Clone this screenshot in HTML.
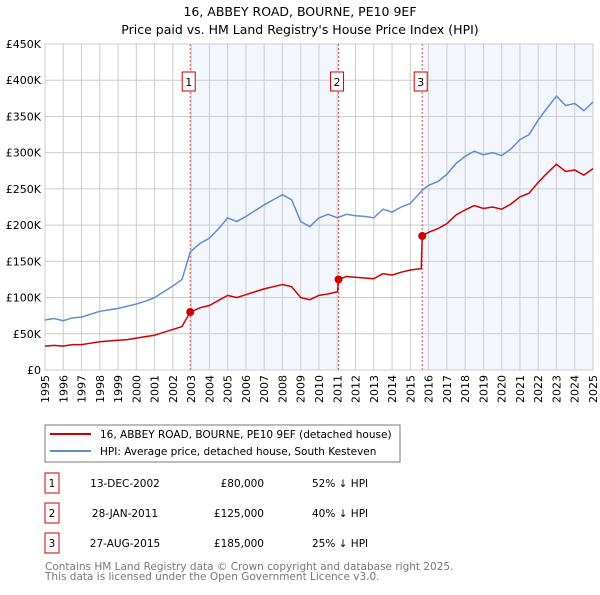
<!DOCTYPE html>
<html><head><meta charset="utf-8"><style>
body{margin:0;background:#fff;font-family:"Liberation Sans","DejaVu Sans",sans-serif;}
svg text{font-family:"DejaVu Sans","Liberation Sans",sans-serif;}
</style></head><body>
<svg id="c" width="600" height="590" xmlns="http://www.w3.org/2000/svg">
<text x="300" y="16" text-anchor="middle" font-size="12.5">16, ABBEY ROAD, BOURNE, PE10 9EF</text>
<text x="300" y="34" text-anchor="middle" font-size="12.5">Price paid vs. HM Land Registry's House Price Index (HPI)</text>
<g id="plot"></g>
<rect x="45" y="425" width="355" height="37" fill="#fff" stroke="#777"/>
<line x1="50" y1="434" x2="91" y2="434" stroke="#cc0000" stroke-width="2"/>
<text x="100" y="438" font-size="10.5">16, ABBEY ROAD, BOURNE, PE10 9EF (detached house)</text>
<line x1="50" y1="451" x2="91" y2="451" stroke="#5b8fd0" stroke-width="2"/>
<text x="100" y="455" font-size="10.5">HPI: Average price, detached house, South Kesteven</text>
<g id="tbl" font-size="10.5"></g>
<text x="45" y="570" font-size="10.5" fill="#777">Contains HM Land Registry data © Crown copyright and database right 2025.</text>
<text x="45" y="580" font-size="10.5" fill="#777">This data is licensed under the Open Government Licence v3.0.</text>
</svg>
<script>
const hpiYears=[1995,1995.5,1996,1996.5,1997,1997.5,1998,1998.5,1999,1999.5,2000,2000.5,2001,2001.5,2002,2002.5,2002.95,2003.5,2004,2004.5,2005,2005.5,2006,2006.5,2007,2007.5,2008,2008.5,2009,2009.5,2010,2010.5,2011,2011.5,2012,2012.5,2013,2013.5,2014,2014.5,2015,2015.65,2016,2016.5,2017,2017.5,2018,2018.5,2019,2019.5,2020,2020.5,2021,2021.5,2022,2022.5,2023,2023.5,2024,2024.5,2025];
const hpiValues=[69,71,68,72,73,77,81,83,85,88,91,95,100,108,116,125,163,175,182,195,210,205,212,220,228,235,242,235,205,198,210,215,210,215,213,212,210,222,218,225,230,248,255,260,270,285,295,302,297,300,296,305,318,325,345,362,378,365,368,358,370];
const propYears=[1995,1995.5,1996,1996.5,1997,1997.5,1998,1998.5,1999,1999.5,2000,2000.5,2001,2001.5,2002,2002.5,2002.95,2003.5,2004,2004.5,2005,2005.5,2006,2006.5,2007,2007.5,2008,2008.5,2009,2009.5,2010,2010.5,2011.02,2011.07,2011.5,2012,2012.5,2013,2013.5,2014,2014.5,2015,2015.6,2015.65,2016,2016.5,2017,2017.5,2018,2018.5,2019,2019.5,2020,2020.5,2021,2021.5,2022,2022.5,2023,2023.5,2024,2024.5,2025];
const propValues=[33,34,33,35,35,37,39,40,41,42,44,46,48,52,56,60,80,86,89,96,103,100,104,108,112,115,118,115,100,97,103,105,108,125,129,128,127,126,133,131,135,138,140,185,190,195,202,214,221,227,223,225,222,229,239,244,259,272,284,274,276,269,278];
const saleLabels=["1","2","3"];
const saleYears=[2002.95,2011.07,2015.65];
const saleValues=[80,125,185];
const saleDates=["13-DEC-2002","28-JAN-2011","27-AUG-2015"];
const salePrices=["£80,000","£125,000","£185,000"];
const saleDiffs=["52% ↓ HPI","40% ↓ HPI","25% ↓ HPI"];
const yTicks=[0,50,100,150,200,250,300,350,400,450];
const yTickLabels=["£0","£50K","£100K","£150K","£200K","£250K","£300K","£350K","£400K","£450K"];
const xTicks=[1995,1996,1997,1998,1999,2000,2001,2002,2003,2004,2005,2006,2007,2008,2009,2010,2011,2012,2013,2014,2015,2016,2017,2018,2019,2020,2021,2022,2023,2024,2025];

const NS="http://www.w3.org/2000/svg";
const X0=45,X1=593,Y0=370,Y1=44;
const xs=y=>X0+(y-1995)/30*(X1-X0);
const ys=v=>Y0-v/450*(Y0-Y1);
const plot=document.getElementById('plot');
function mk(tag,at,parent){const e=document.createElementNS(NS,tag);for(const k in at)e.setAttribute(k,at[k]);(parent||plot).appendChild(e);return e;}
let e,g;
e=mk('rect',{x:xs(saleYears[0]),y:Y1,width:xs(saleYears[1])-xs(saleYears[0]),height:Y0-Y1,fill:'#f3f6fd'});


e=mk('rect',{x:xs(saleYears[2]),y:Y1,width:X1-xs(saleYears[2]),height:Y0-Y1,fill:'#f3f6fd'});


xTicks.forEach(t=>{
 e=mk('line',{x1:xs(t),x2:xs(t),y1:Y1,y2:Y0,stroke:'#ccc','stroke-width':1});
 
 
 g=mk('g',{transform:'translate('+(xs(t)+4)+',375) rotate(-90)'});
 e=mk('text',{x:0,y:0,'font-size':11,'text-anchor':'end'},g);
 e.textContent=t;
 
 
});
yTicks.forEach((t,i)=>{
 e=mk('line',{x1:X0,x2:X1,y1:ys(t),y2:ys(t),stroke:'#ccc','stroke-width':1});
 
 
 e=mk('text',{x:41,y:ys(t)+4,'font-size':11,'text-anchor':'end'});
 e.textContent=yTickLabels[i];
 
 
});
e=mk('rect',{x:X0,y:Y1,width:X1-X0,height:Y0-Y1,fill:'none',stroke:'#ccc'});


saleYears.forEach((s,i)=>{
 e=mk('line',{x1:xs(s),x2:xs(s),y1:Y1,y2:Y0,stroke:'#e05050','stroke-width':1,'stroke-dasharray':'2,2'});
 
 
 e=mk('rect',{x:xs(s)-8,y:72,width:13,height:19,fill:'#fff',stroke:'#cc0000'});
 
 
 e=mk('text',{x:xs(s)-1.5,y:86,'font-size':11,'text-anchor':'middle'});
 e.textContent=saleLabels[i];
 
 
});
e=mk('polyline',{points:hpiYears.map((y,i)=>xs(y)+','+ys(hpiValues[i])).join(' '),fill:'none',stroke:'#5b8fd0','stroke-width':1.5});


e=mk('polyline',{points:propYears.map((y,i)=>xs(y)+','+ys(propValues[i])).join(' '),fill:'none',stroke:'#cc0000','stroke-width':1.5});


saleYears.forEach((s,i)=>{
 e=mk('circle',{cx:xs(s),cy:ys(saleValues[i]),r:4,fill:'#cc0000'});
 
 
});
const tbl=document.getElementById('tbl');
saleLabels.forEach((l,i)=>{
 const cy=483+i*30;
 e=mk('rect',{x:45,y:cy-10,width:14,height:20,fill:'#fff',stroke:'#cc0000'},tbl);
 
 
 e=mk('text',{x:52,y:cy+4,'text-anchor':'middle'},tbl);e.textContent=l;
 
 
 e=mk('text',{x:125,y:cy+4,'text-anchor':'middle'},tbl);e.textContent=saleDates[i];
 
 
 e=mk('text',{x:264,y:cy+4,'text-anchor':'end'},tbl);e.textContent=salePrices[i];
 
 
 e=mk('text',{x:312,y:cy+4},tbl);e.textContent=saleDiffs[i];
 
 
});
</script>
</body></html>
